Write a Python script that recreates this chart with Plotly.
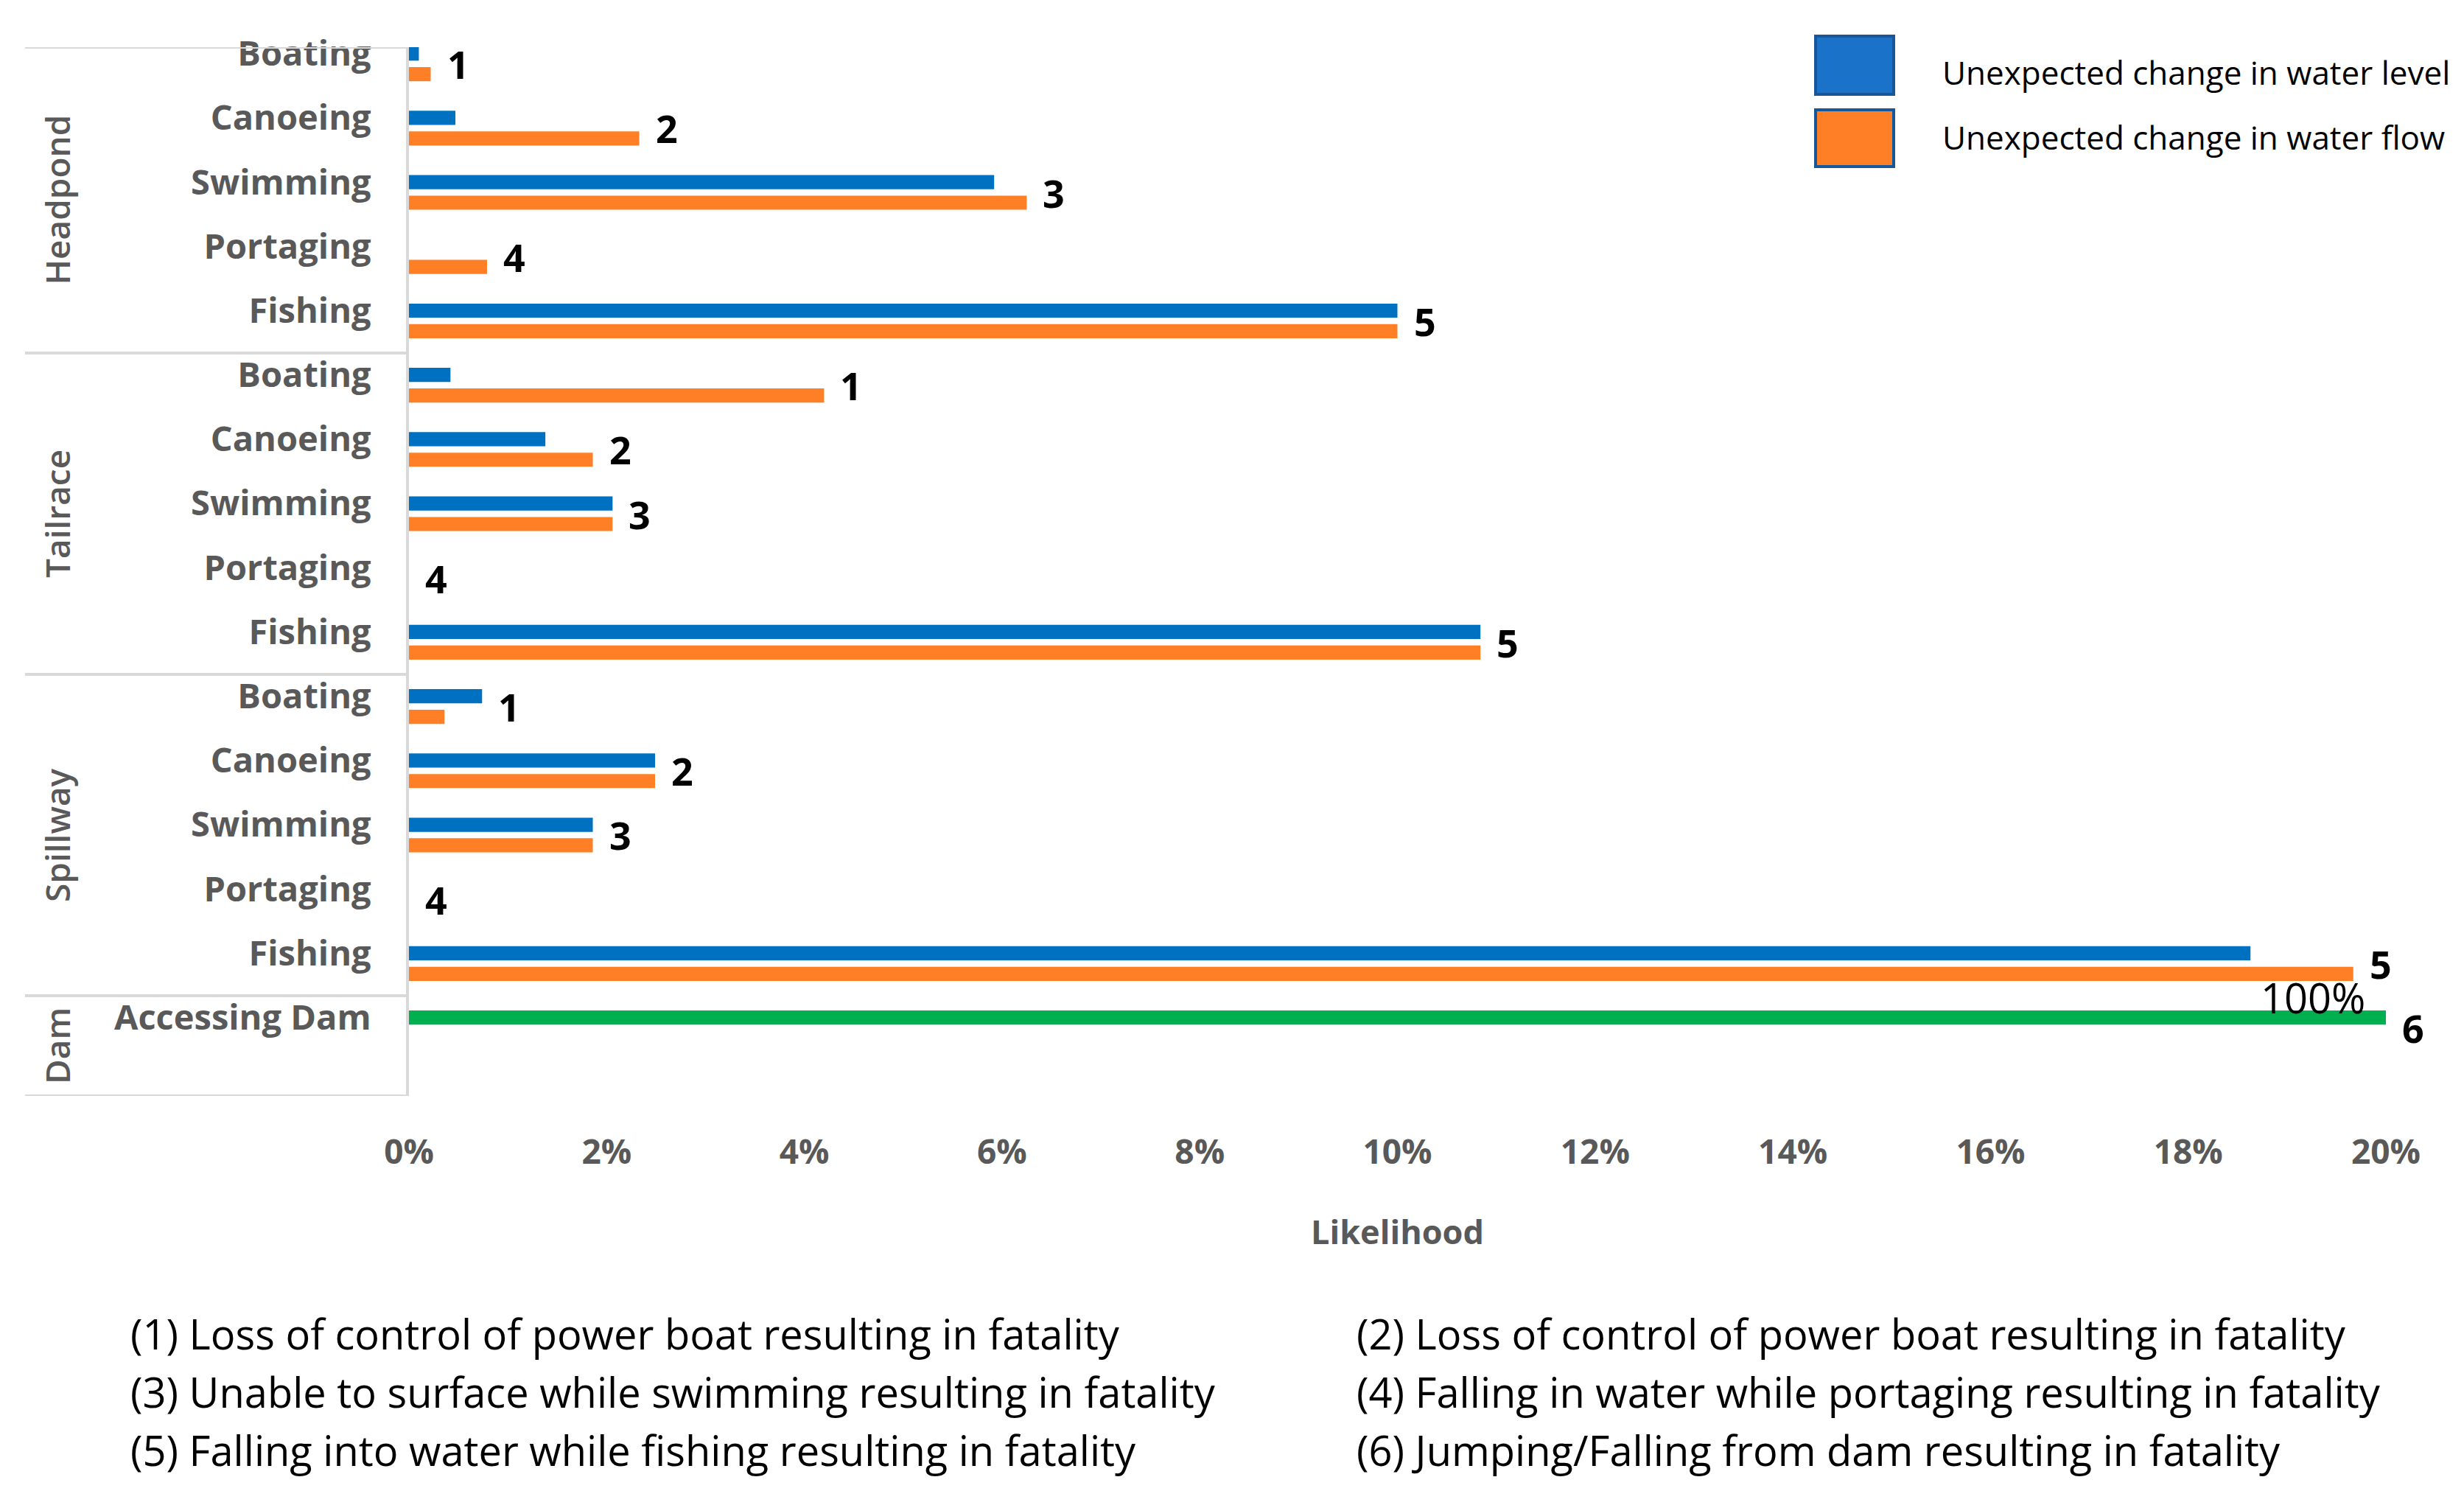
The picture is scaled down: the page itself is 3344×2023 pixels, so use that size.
import plotly.graph_objects as go

# rows, top to bottom
groups = ["Headpond"] * 5 + ["Tailrace"] * 5 + ["Spillway"] * 5 + ["Dam"]
activities = ["Boating", "Canoeing", "Swimming", "Portaging", "Fishing"] * 3 + ["Accessing Dam"]
hazard_ids = [1, 2, 3, 4, 5] * 3 + [6]

# likelihood in %
water_level = [0.1, 0.47, 5.92, 0, 10.0,
               0.42, 1.38, 2.06, 0, 10.84,
               0.74, 2.49, 1.86, 0, 18.63,
               100]
water_flow = [0.22, 2.33, 6.25, 0.79, 10.0,
              4.2, 1.86, 2.06, 0, 10.84,
              0.36, 2.49, 1.86, 0, 19.67,
              None]

x_ticks = [0, 2, 4, 6, 8, 10, 12, 14, 16, 18, 20]

hazards = [
    "(1) Loss of control of power boat resulting in fatality",
    "(2) Loss of control of power boat resulting in fatality",
    "(3) Unable to surface while swimming resulting in fatality",
    "(4) Falling in water while portaging resulting in fatality",
    "(5) Falling into water while fishing resulting in fatality",
    "(6) Jumping/Falling from dam resulting in fatality",
]

series_names = ["Unexpected change in water level", "Unexpected change in water flow"]

BLUE = "#0070C0"
ORANGE = "#FF7F27"
GREEN = "#00B050"
GREY = "#595959"
LINE = "#D9D9D9"
FONT = "Open Sans"

# page has an 8px body margin, so the figure is a bit smaller than the window
OFF = 8
W, H = 3344 - OFF, 2023 - OFF
L, T = 555 - OFF, 64 - OFF
R, B = W - (3238 - OFF), H - (1487 - OFF)


def paper_x(px):
    # px: screen pixel
    return (px - OFF - L) / (W - L - R)


def paper_y(py):
    return (H - B - (py - OFF)) / (H - T - B)


keys = [f"{g}|{a}" for g, a in zip(groups, activities)]
x_max = x_ticks[-1]
y_range = [16.06, -0.26]

fig = go.Figure()

# blue series (the dam row is drawn green, as in the original)
fig.add_trace(go.Bar(
    y=keys, x=[min(v, x_max) for v in water_level],
    orientation="h", name=series_names[0],
    width=0.22, offset=-0.27,
    marker=dict(color=[GREEN if g == "Dam" else BLUE for g in groups], line_width=0),
))

fig.add_trace(go.Bar(
    y=keys, x=[None if v is None else min(v, x_max) for v in water_flow],
    orientation="h", name=series_names[1],
    width=0.22, offset=0.05,
    marker=dict(color=ORANGE, line_width=0),
))

annotations = []

# hazard number next to each row
for k, lv, fv, hid in zip(keys, water_level, water_flow, hazard_ids):
    end = max(v for v in (lv, fv) if v is not None)
    annotations.append(dict(
        x=min(end, x_max), y=k, xref="x", yref="y", text=str(hid),
        showarrow=False, xanchor="left", xshift=20,
        font=dict(family=FONT, size=52, color="black", weight="bold"),
    ))
    if end > x_max:
        annotations.append(dict(
            x=x_max, y=k, xref="x", yref="y", text=f"{end:.0f}%",
            showarrow=False, xanchor="right", yanchor="middle",
            xshift=-26, yshift=42,
            font=dict(family=FONT, size=56, color="black"),
        ))

# group separators and rotated group labels
bounds = [y_range[1]]
for i in range(1, len(groups)):
    if groups[i] != groups[i - 1]:
        bounds.append(i - 0.5)
bounds.append(y_range[0])

shapes = []
for b in bounds:
    shapes.append(dict(type="line", xref="paper", yref="y",
                       x0=paper_x(34), x1=0, y0=b, y1=b,
                       line=dict(color=LINE, width=4)))

group_names = []
for g in groups:
    if g not in group_names:
        group_names.append(g)
for j, g in enumerate(group_names):
    annotations.append(dict(
        x=paper_x(77), y=(bounds[j] + bounds[j + 1]) / 2, xref="paper", yref="y",
        text=g, textangle=-90, showarrow=False, xanchor="center", yanchor="middle",
        font=dict(family=FONT, size=46, color=GREY, weight=600),
    ))

# legend drawn by hand (large squares)
legend_boxes = [(49, 128), (149, 226)]
legend_text_y = [98, 186]
for (y0, y1), ty, name, col in zip(legend_boxes, legend_text_y, series_names, [BLUE, ORANGE]):
    shapes.append(dict(type="rect", xref="paper", yref="paper",
                       x0=paper_x(2464), x1=paper_x(2570),
                       y0=paper_y(y1), y1=paper_y(y0),
                       fillcolor="#1A73C9" if col == BLUE else col,
                       line=dict(color="#17569B", width=4)))
    annotations.append(dict(
        x=paper_x(2634), y=paper_y(ty), xref="paper", yref="paper",
        text=name, showarrow=False, xanchor="left", yanchor="middle",
        font=dict(family=FONT, size=44, color="black"),
    ))

# footnotes in two columns
col_x = [175, 1839]
row_y = [1809, 1888, 1967]
for i, txt in enumerate(hazards):
    annotations.append(dict(
        x=paper_x(col_x[i % 2]), y=paper_y(row_y[i // 2]), xref="paper", yref="paper",
        text=txt, showarrow=False, xanchor="left", yanchor="middle",
        font=dict(family=FONT, size=56, color="black"),
    ))

fig.update_layout(
    width=W, height=H,
    margin=dict(l=L, r=R, t=T, b=B),
    plot_bgcolor="white", paper_bgcolor="white",
    showlegend=False,
    barmode="group",
    font=dict(family=FONT, color=GREY),
    annotations=annotations,
    shapes=shapes,
)

fig.update_xaxes(
    range=[0, x_max], tickvals=x_ticks, ticktext=[f"{t}%" for t in x_ticks],
    showgrid=False, zeroline=False, showline=False, ticks="",
    tickfont=dict(family=FONT, size=46, color=GREY, weight="bold"),
    ticklabelstandoff=45,
    title=dict(text="Likelihood", standoff=65,
               font=dict(family=FONT, size=45, color=GREY, weight="bold")),
)

fig.update_yaxes(
    type="category", categoryorder="array", categoryarray=keys,
    range=y_range, tickvals=keys, ticktext=activities,
    showgrid=False, zeroline=False, ticks="",
    showline=True, linecolor=LINE, linewidth=4,
    tickfont=dict(family=FONT, size=47, color=GREY, weight="bold"),
    ticklabelstandoff=38, ticklabelshift=14,
)

fig.write_html("out.html")
